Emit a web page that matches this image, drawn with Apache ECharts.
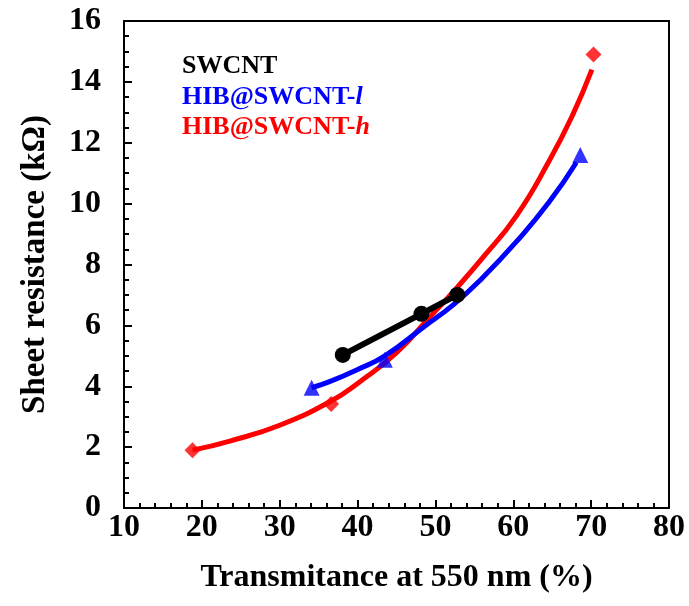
<!DOCTYPE html>
<html>
<head>
<meta charset="utf-8">
<script src="https://cdn.jsdelivr.net/npm/echarts@6/dist/echarts.min.js"></script>
<style>
  html, body { margin: 0; padding: 0; background: #fff; }
  #main { width: 689px; height: 606px; }
</style>
</head>
<body>
<div id="main"></div>
<script>
// measured points [transmittance %, sheet resistance kOhm]
const swcnt = [[38.1, 5.03], [48.2, 6.38], [52.8, 7.0]];
const hibLowPts = [[34.1, 3.95], [43.5, 4.87], [68.6, 11.6]];
const hibHighPts = [[18.8, 1.9], [36.6, 3.42], [70.3, 14.9]];

// fitted trend curves
const hibLowFit = [[34.1, 3.95], [36.4, 4.15], [40.0, 4.55], [43.5, 5.0], [48.5, 5.95],
  [52.4, 6.7], [56.0, 7.55], [60.4, 8.75], [64.6, 10.05], [68.1, 11.35]];
const hibHighFit = [[18.8, 1.9], [23.6, 2.2], [30.0, 2.72], [36.5, 3.5], [40.3, 4.15],
  [45.0, 5.1], [49.2, 6.25], [52.8, 7.25], [56.0, 8.2], [60.4, 9.6], [64.6, 11.4],
  [67.6, 12.9], [70.1, 14.4]];

const font = '"Liberation Serif", "Times New Roman", serif';
const black = '#000';

const tickLabel = { fontFamily: font, fontWeight: 'bold', fontSize: 32, color: black };
const frameLine = { show: true, onZero: false, lineStyle: { color: black, width: 2 } };

const chart = echarts.init(document.getElementById('main'));
chart.setOption({
  animation: false,
  grid: { left: 124, right: 20, top: 21, bottom: 98 },
  xAxis: [
    {
      type: 'value', min: 10, max: 80, interval: 10,
      name: 'Transmitance at 550 nm (%)',
      nameLocation: 'middle', nameGap: 54,
      nameTextStyle: { fontFamily: font, fontWeight: 'bold', fontSize: 32, color: black },
      axisLine: frameLine,
      axisTick: { inside: true, length: 8, lineStyle: { color: black, width: 2 } },
      minorTick: { show: true, splitNumber: 5, length: 5, lineStyle: { color: black, width: 2 } },
      axisLabel: Object.assign({ margin: 4 }, tickLabel),
      splitLine: { show: false }
    },
    {
      type: 'value', min: 10, max: 80, position: 'top',
      axisLine: frameLine,
      axisTick: { show: false }, axisLabel: { show: false }, splitLine: { show: false }
    }
  ],
  yAxis: [
    {
      type: 'value', min: 0, max: 16, interval: 2,
      name: 'Sheet resistance (kΩ)',
      nameLocation: 'middle', nameGap: 72,
      nameTextStyle: { fontFamily: font, fontWeight: 'bold', fontSize: 33, color: black },
      axisLine: frameLine,
      axisTick: { inside: true, length: 8, lineStyle: { color: black, width: 2 } },
      minorTick: { show: true, splitNumber: 4, length: 5, lineStyle: { color: black, width: 2 } },
      axisLabel: Object.assign({ margin: 23 }, tickLabel),
      splitLine: { show: false }
    },
    {
      type: 'value', min: 0, max: 16, position: 'right',
      axisLine: frameLine,
      axisTick: { show: false }, axisLabel: { show: false }, splitLine: { show: false }
    }
  ],
  graphic: [
    { type: 'text', left: 182, top: 53, style: { text: 'SWCNT', font: 'bold 26px ' + font, fill: black } },
    {
      type: 'text', left: 182, top: 84,
      style: {
        text: '{a|HIB@SWCNT-}{b|l}',
        rich: {
          a: { font: 'bold 26px ' + font, fill: '#0000ff' },
          b: { font: 'italic bold 26px ' + font, fill: '#0000ff' }
        }
      }
    },
    {
      type: 'text', left: 182, top: 114,
      style: {
        text: '{a|HIB@SWCNT-}{b|h}',
        rich: {
          a: { font: 'bold 26px ' + font, fill: '#ff0000' },
          b: { font: 'italic bold 26px ' + font, fill: '#ff0000' }
        }
      }
    }
  ],
  series: [
    {
      name: 'HIB@SWCNT-h fit', type: 'line', data: hibHighFit, smooth: true,
      showSymbol: false, lineStyle: { color: '#ff0000', width: 5 }, z: 2
    },
    {
      name: 'HIB@SWCNT-l fit', type: 'line', data: hibLowFit, smooth: true,
      showSymbol: false, lineStyle: { color: '#0000ff', width: 5 }, z: 3
    },
    {
      name: 'HIB@SWCNT-h', type: 'scatter', data: hibHighPts, symbol: 'diamond',
      symbolSize: 16, itemStyle: { color: '#ff0000' }, z: 4
    },
    {
      name: 'HIB@SWCNT-l', type: 'scatter', data: hibLowPts, symbol: 'triangle',
      symbolSize: 16, itemStyle: { color: '#0000ff' }, z: 4
    },
    {
      name: 'SWCNT', type: 'line', data: swcnt, symbol: 'circle', symbolSize: 16,
      itemStyle: { color: black }, lineStyle: { color: black, width: 6 }, z: 5
    }
  ]
});
</script>
</body>
</html>
